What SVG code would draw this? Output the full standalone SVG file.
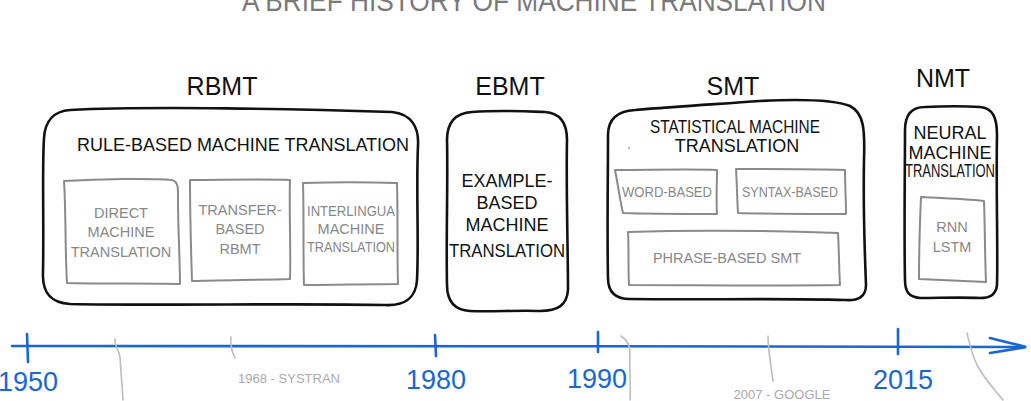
<svg xmlns="http://www.w3.org/2000/svg" width="1031" height="401" viewBox="0 0 1031 401">
<style>
text{font-family:"Liberation Sans",Arial,sans-serif;text-anchor:middle}
.title{fill:#7a7a7a;font-size:30px}
.era{fill:#111;font-size:25px}
.main{fill:#111;font-size:18px}
.sub{fill:#888;font-size:14.5px}
.outer{fill:none;stroke:#111;stroke-width:2.6;stroke-linejoin:round;stroke-linecap:round}
.inner{fill:none;stroke:#8a8a8a;stroke-width:2;stroke-linejoin:round;stroke-linecap:round}
.axis{fill:none;stroke:#1a66d4;stroke-width:2.6;stroke-linecap:round}
.tick{fill:none;stroke:#1a66d4;stroke-width:2.6;stroke-linecap:round}
.year{fill:#1a66d4;font-size:27px}
.pin{fill:none;stroke:#bdbdbd;stroke-width:1.6;stroke-linecap:round}
.note{fill:#aaa;font-size:13px}
</style>
<text class="title" x="534" y="11" textLength="584" lengthAdjust="spacingAndGlyphs">A BRIEF HISTORY OF MACHINE TRANSLATION</text>

<g id="rbmt">
<text class="era" x="222" y="95">RBMT</text>
<path class="outer" d="M70,110 C150,106 300,109 392,112 C412,114 419,128 418,145 C416,190 419,240 417,280 C416,298 404,306 385,305 C290,303 160,306 70,304 C50,303 42,292 43,272 C44,220 42,170 44,138 C45,120 55,111 70,110 Z"/>
<text class="main" x="243" y="151" textLength="332" lengthAdjust="spacingAndGlyphs">RULE-BASED MACHINE TRANSLATION</text>
<g id="rbmt-direct">
<path class="inner" d="M64,181 C100,179 150,178 172,180 C179,182 178,190 178,200 C178,230 180,260 180,284 C150,283 100,284 67,283 C65,250 66,210 64,181 Z"/>
<text class="sub" x="121" y="218">DIRECT</text>
<text class="sub" x="121" y="237">MACHINE</text>
<text class="sub" x="121" y="257">TRANSLATION</text>
</g>
<g id="rbmt-transfer">
<path class="inner" d="M190,180 C220,180 260,179 290,180 C289,210 291,250 290,279 C260,280 220,280 192,281 C191,250 190,210 190,180 Z"/>
<text class="sub" x="240" y="215">TRANSFER-</text>
<text class="sub" x="240" y="234">BASED</text>
<text class="sub" x="240" y="254">RBMT</text>
</g>
<g id="rbmt-interlingua">
<path class="inner" d="M303,183 C330,182 370,182 397,183 C398,215 397,255 398,284 C370,284 330,285 304,285 C303,255 304,215 303,183 Z"/>
<text class="sub" x="351" y="216" textLength="88" lengthAdjust="spacingAndGlyphs">INTERLINGUA</text>
<text class="sub" x="351" y="234">MACHINE</text>
<text class="sub" x="351" y="252" textLength="88" lengthAdjust="spacingAndGlyphs">TRANSLATION</text>
</g>
</g>

<g id="ebmt">
<text class="era" x="510" y="95">EBMT</text>
<path class="outer" d="M472,112 C500,110 520,111 545,112 C560,113 567,122 567,140 C566,190 568,250 568,290 C567,305 558,311 540,311 C520,310 490,312 470,311 C453,310 447,300 447,285 C446,240 448,180 447,140 C447,122 456,113 472,112 Z"/>
<text class="main" x="507" y="187" font-size="19">EXAMPLE-</text>
<text class="main" x="507" y="209" font-size="19">BASED</text>
<text class="main" x="507" y="231" font-size="19">MACHINE</text>
<text class="main" x="507" y="257" font-size="19" textLength="116" lengthAdjust="spacingAndGlyphs">TRANSLATION</text>
</g>

<g id="smt">
<text class="era" x="733" y="95">SMT</text>
<path class="outer" d="M635,110 C680,106 720,104 760,101 C800,99 835,100 850,106 C864,113 865,130 864,160 C863,210 865,260 866,285 C866,297 858,301 845,300 C780,298 700,300 630,299 C615,299 608,292 608,278 C607,230 608,180 608,135 C608,118 618,111 635,110 Z"/>
<text class="main" x="735" y="133" font-size="16" textLength="170" lengthAdjust="spacingAndGlyphs">STATISTICAL MACHINE</text>
<text class="main" x="737" y="152" font-size="16">TRANSLATION</text>
<circle cx="629" cy="148" r="0.9" fill="#999"/>
<g id="smt-word">
<path class="inner" d="M615,170 C650,170 690,169 717,170 C717,185 716,200 717,214 C690,214 650,214 623,213 C620,200 618,185 615,170 Z"/>
<text class="sub" x="667" y="197" textLength="90" lengthAdjust="spacingAndGlyphs">WORD-BASED</text>
</g>
<g id="smt-syntax">
<path class="inner" d="M736,169 C770,169 810,169 845,170 C845,185 846,200 846,214 C810,214 770,214 738,213 C737,198 737,184 736,169 Z"/>
<text class="sub" x="790" y="197" textLength="96" lengthAdjust="spacingAndGlyphs">SYNTAX-BASED</text>
</g>
<g id="smt-phrase">
<path class="inner" d="M628,232 C690,230 780,231 838,233 C839,250 839,268 840,285 C780,286 690,285 629,285 C628,268 629,250 628,232 Z"/>
<text class="sub" x="727" y="263">PHRASE-BASED SMT</text>
</g>
</g>

<g id="nmt">
<text class="era" x="943" y="87">NMT</text>
<path class="outer" d="M925,107 C945,106 965,106 980,107 C993,108 997,118 997,135 C996,190 998,250 997,285 C996,295 990,298 980,298 C960,297 940,298 920,298 C909,297 905,292 905,280 C904,230 905,170 905,130 C905,114 912,107 925,107 Z"/>
<text class="main" x="950" y="139" font-size="15">NEURAL</text>
<text class="main" x="950" y="159" font-size="15">MACHINE</text>
<text class="main" x="950" y="177" font-size="15" textLength="90" lengthAdjust="spacingAndGlyphs">TRANSLATION</text>
<g id="nmt-rnn">
<path class="inner" d="M921,197 C940,198 965,199 984,201 C985,230 985,260 986,282 C965,281 940,280 919,279 C919,250 920,220 921,197 Z"/>
<text class="sub" x="952" y="232" font-size="15">RNN</text>
<text class="sub" x="952" y="252" font-size="15">LSTM</text>
</g>
</g>

<g id="connectors">
<path class="axis" d="M12,346 C300,346 700,346 1025,347"/>
<path class="axis" d="M990,338 C1005,342 1015,344 1026,347 C1015,349 1003,351 990,353"/>
<path class="tick" d="M27,334 L28,362"/>
<path class="tick" d="M435,335 L436,356"/>
<path class="tick" d="M598,332 L598,352"/>
<path class="tick" d="M898,329 L898,354"/>
<path class="pin" d="M115,339 C114,345 119,350 120,357 C121,370 122,385 123,400"/>
<path class="pin" d="M231,337 C230,345 232,352 235,358"/>
<path class="pin" d="M621,336 C627,340 630,346 630,352 C629,365 631,385 630,400"/>
<path class="pin" d="M768,336 C768,348 770,360 773,381"/>
<path class="pin" d="M967,333 C970,345 972,355 977,365 C985,380 995,390 1003,400"/>
</g>

<text class="year" x="28" y="391">1950</text>
<text class="year" x="436" y="389">1980</text>
<text class="year" x="597" y="388">1990</text>
<text class="year" x="903" y="389">2015</text>
<text class="note" x="289" y="383">1968 - SYSTRAN</text>
<text class="note" x="782" y="399">2007 - GOOGLE</text>
</svg>
